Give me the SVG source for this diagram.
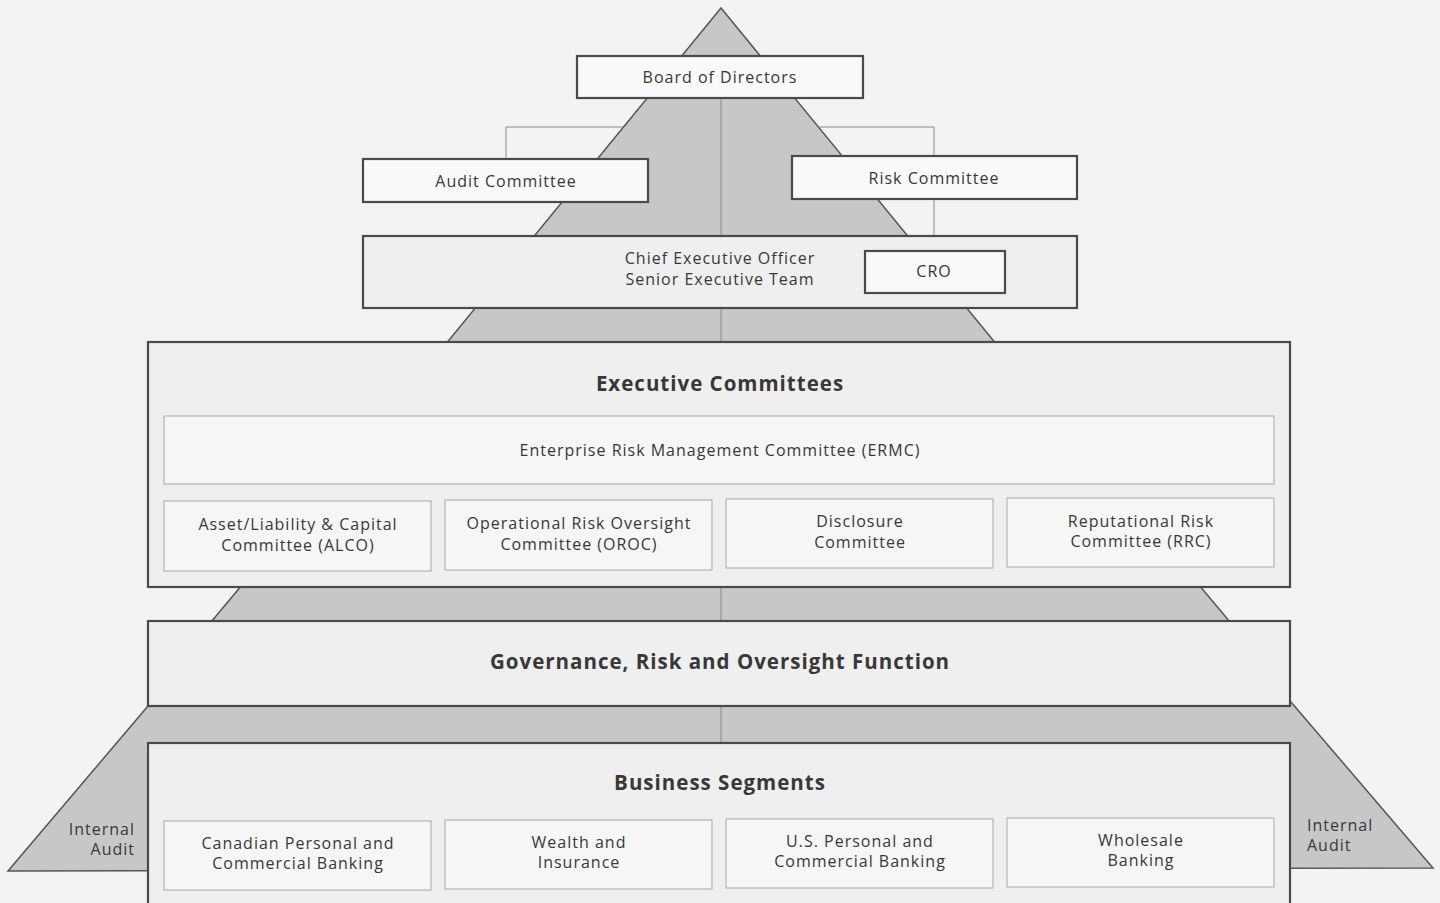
<svg xmlns="http://www.w3.org/2000/svg" width="1440" height="903" viewBox="0 0 1440 903">
<style>
.pyr{fill:#c7c7c7;stroke:#555;stroke-width:1.5}
.box{fill:#f9f9f9;stroke:#4a4a4a;stroke-width:2.2}
.big{fill:#efefef;stroke:#4a4a4a;stroke-width:2.2}
.sub{fill:#f6f6f6;stroke:#a8a8a8;stroke-width:1}
.conn{fill:none;stroke:#8a8a8a;stroke-width:1}
text{font-family:"Open Sans","Liberation Sans",sans-serif;fill:#383838;text-anchor:middle;dominant-baseline:central;letter-spacing:1px}
.t{font-size:16px}
.h{font-size:20.5px;font-weight:bold}
.l{font-size:16px;text-anchor:end}
.r{font-size:16px;text-anchor:start}
</style>
<rect width="1440" height="903" fill="#f3f3f3"/>
<g id="pyramid">
<polygon class="pyr" points="8,871 148,706 1291,702 1433,868"/>
<polygon class="pyr" points="242,585 1199,585 1230,622 211,622"/>
<polygon class="pyr" points="721,8 445,345 997,345"/>
</g>
<g id="connectors">
<path class="conn" d="M506,158 V127 H623 M934,156 V127 H818 M934,199 V251 M721,98 V236 M721,308 V343 M721,587 V620 M721,706 V742"/>
</g>
<g id="board"><rect class="box" x="577" y="56" width="286" height="42"/><text class="t" x="720" y="77">Board of Directors</text></g>
<g id="audit-committee"><rect class="box" x="363" y="159" width="285" height="43"/><text class="t" x="506" y="181">Audit Committee</text></g>
<g id="risk-committee"><rect class="box" x="792" y="156" width="285" height="43"/><text class="t" x="934" y="178">Risk Committee</text></g>
<g id="ceo"><rect class="big" x="363" y="236" width="714" height="72"/><text class="t" x="720" y="258">Chief Executive Officer</text><text class="t" x="720" y="279">Senior Executive Team</text></g>
<g id="cro"><rect class="box" x="865" y="251" width="140" height="42"/><text class="t" x="934" y="271">CRO</text></g>
<g id="executive-committees"><rect class="big" x="148" y="342" width="1142" height="245"/><text class="h" x="720" y="383">Executive Committees</text></g>
<g id="ermc"><rect class="sub" x="164" y="416" width="1110" height="68"/><text class="t" x="720" y="450">Enterprise Risk Management Committee (ERMC)</text></g>
<g id="alco"><rect class="sub" x="164" y="501" width="267" height="70"/><text class="t" x="298" y="524">Asset/Liability &amp; Capital</text><text class="t" x="298" y="545">Committee (ALCO)</text></g>
<g id="oroc"><rect class="sub" x="445" y="500" width="267" height="70"/><text class="t" x="579" y="523">Operational Risk Oversight</text><text class="t" x="579" y="544">Committee (OROC)</text></g>
<g id="disclosure"><rect class="sub" x="726" y="499" width="267" height="69"/><text class="t" x="860" y="521">Disclosure</text><text class="t" x="860" y="542">Committee</text></g>
<g id="rrc"><rect class="sub" x="1007" y="498" width="267" height="69"/><text class="t" x="1141" y="521">Reputational Risk</text><text class="t" x="1141" y="541">Committee (RRC)</text></g>
<g id="governance"><rect class="big" x="148" y="621" width="1142" height="85"/><text class="h" x="720" y="661">Governance, Risk and Oversight Function</text></g>
<g id="business-segments"><rect class="big" x="148" y="743" width="1142" height="170"/><text class="h" x="720" y="782">Business Segments</text></g>
<g id="cpcb"><rect class="sub" x="164" y="821" width="267" height="69"/><text class="t" x="298" y="843">Canadian Personal and</text><text class="t" x="298" y="863">Commercial Banking</text></g>
<g id="wealth"><rect class="sub" x="445" y="820" width="267" height="69"/><text class="t" x="579" y="842">Wealth and</text><text class="t" x="579" y="862">Insurance</text></g>
<g id="uspcb"><rect class="sub" x="726" y="819" width="267" height="69"/><text class="t" x="860" y="841">U.S. Personal and</text><text class="t" x="860" y="861">Commercial Banking</text></g>
<g id="wholesale"><rect class="sub" x="1007" y="818" width="267" height="69"/><text class="t" x="1141" y="840">Wholesale</text><text class="t" x="1141" y="860">Banking</text></g>
<g id="internal-audit-left"><text class="l" x="135" y="829">Internal</text><text class="l" x="135" y="849">Audit</text></g>
<g id="internal-audit-right"><text class="r" x="1307" y="825">Internal</text><text class="r" x="1307" y="845">Audit</text></g>
</svg>
